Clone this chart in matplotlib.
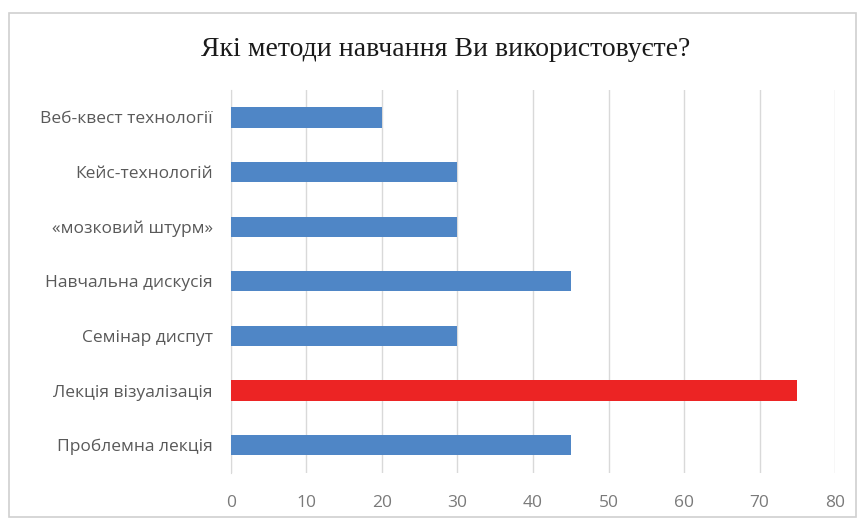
import matplotlib.pyplot as plt
from matplotlib.patches import Rectangle

categories = ['Проблемна лекція', 'Лекція візуалізація', 'Семінар диспут',
              'Навчальна дискусія', '«мозковий штурм»', 'Кейс-технологій',
              'Веб-квест технології']
values = [45, 75, 30, 45, 30, 30, 20]
highlight = 'Лекція візуалізація'
xticks = [0, 10, 20, 30, 40, 50, 60, 70, 80]
title = 'Які методи навчання Ви використовуєте?'

blue = '#4f86c6'
red = '#ec2424'
colors = [red if c == highlight else blue for c in categories]

fig = plt.figure(figsize=(8.61, 5.21), dpi=100)
ax = fig.add_axes([0.268, 0.093, 0.702, 0.734])

ax.barh(range(len(categories)), values, height=0.37, color=colors, zorder=3)

ax.set_xlim(0, 80)
ax.set_ylim(-0.5, len(categories) - 0.5)
ax.set_xticks(xticks)
ax.set_yticks(range(len(categories)))
ax.set_yticklabels(categories)
ax.tick_params(axis='both', length=0, labelsize=12.5, labelcolor='#595959')
ax.tick_params(axis='x', pad=16, labelcolor='#7a7a7a')
ax.tick_params(axis='y', pad=13)
for lbl in ax.get_xticklabels() + ax.get_yticklabels():
    lbl.set_family('Open Sans')

ax.grid(axis='x', color='#d9d9d9', linewidth=1, zorder=0)
for side in ['top', 'right', 'bottom']:
    ax.spines[side].set_visible(False)
ax.spines['left'].set_color('#d9d9d9')

fig.text(0.517, 0.905, title, ha='center', va='center', fontsize=20,
         family='Liberation Serif', color='#1a1a1a')

# light frame around the chart area
fig.patches.append(Rectangle((0.011, 0.008), 0.983, 0.968, transform=fig.transFigure,
                             fill=False, edgecolor='#d0d0d0', linewidth=1.2))

fig.savefig('out.png', dpi=100)
